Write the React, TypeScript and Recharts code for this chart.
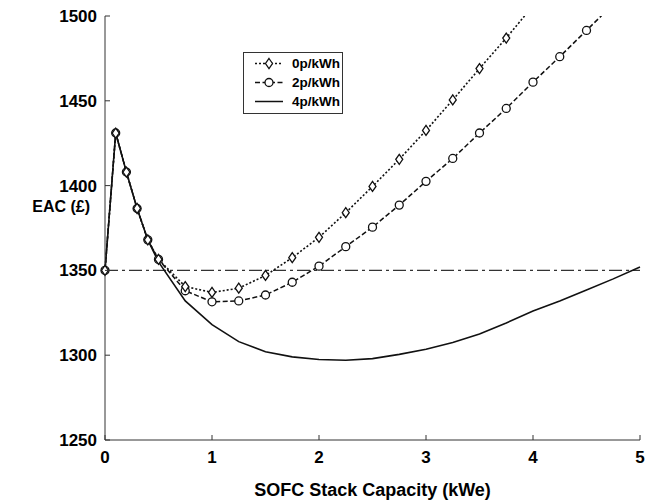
import { LineChart, Line, XAxis, YAxis, ReferenceLine, Label } from 'recharts';

// SOFC stack capacity (kWe) and equivalent annual cost (£) per electricity export price
const capacities = [0, 0.1, 0.2, 0.3, 0.4, 0.5, 0.75, 1, 1.25, 1.5, 1.75, 2, 2.25, 2.5, 2.75, 3, 3.25, 3.5, 3.75, 4, 4.25, 4.5, 4.75, 5];
const eac0p = [1350, 1431, 1408, 1386.5, 1368, 1356.5, 1340.5, 1337, 1339.5, 1347, 1357.5, 1369.5, 1384, 1399.5, 1415.5, 1432.5, 1450.5, 1469, 1487, 1506, null, null, null, null];
const eac2p = [1350, 1431, 1408, 1386.5, 1368, 1356.5, 1338, 1331.5, 1332, 1335.5, 1343, 1352.5, 1364, 1375.5, 1388.5, 1402.5, 1416, 1431, 1445.5, 1461, 1476, 1491.5, 1507, null];
const eac4p = [1350, 1431, 1408, 1386.5, 1368, 1355, 1332, 1318, 1308, 1302, 1299, 1297.5, 1297, 1298, 1300.5, 1303.5, 1307.5, 1312.5, 1319, 1326, 1332, 1338.5, 1345, 1352];
const baseline = 1350;

const xTicks = [0, 1, 2, 3, 4, 5];
const yTicks = [1250, 1300, 1350, 1400, 1450, 1500];

const rows = capacities.map((cap, i) => ({ cap, eac0p: eac0p[i], eac2p: eac2p[i], eac4p: eac4p[i] }));

const FONT = '"Liberation Sans", Arial, Helvetica, sans-serif';
const INK = '#111';
const AXIS = '#333';

const legendItems = [
  { key: 'eac0p', name: '0p/kWh', dash: '2 2', marker: 'diamond' },
  { key: 'eac2p', name: '2p/kWh', dash: '5 2.5', marker: 'circle' },
  { key: 'eac4p', name: '4p/kWh', dash: undefined, marker: 'none' },
];

const DiamondDot = (props: any) => {
  const { cx, cy } = props;
  if (cx == null || cy == null) return null;
  return (
    <path
      d={`M${cx},${cy - 5}L${cx + 3.5},${cy}L${cx},${cy + 5}L${cx - 3.5},${cy}Z`}
      fill="#fff"
      stroke={INK}
      strokeWidth={1.3}
    />
  );
};

const LegendBox = () => (
  <div
    style={{
      position: 'absolute',
      left: 243,
      top: 52,
      width: 98,
      border: '1px solid #333',
      background: '#fff',
      padding: '1px 0 2px 0',
    }}
  >
    {legendItems.map((it) => (
      <div key={it.key} style={{ display: 'flex', alignItems: 'center', height: 19 }}>
        <svg width={48} height={19} style={{ display: 'block' }}>
          <line x1={11} x2={39} y1={9.5} y2={9.5} stroke={INK} strokeWidth={1.5} strokeDasharray={it.dash} />
          {it.marker === 'diamond' && <DiamondDot cx={25} cy={9.5} />}
          {it.marker === 'circle' && <circle cx={25} cy={9.5} r={4} fill="#fff" stroke={INK} strokeWidth={1.3} />}
        </svg>
        <span style={{ fontFamily: FONT, fontWeight: 'bold', fontSize: 13.5, color: '#000' }}>{it.name}</span>
      </div>
    ))}
  </div>
);

const renderYLabel = (props: any) => {
  const vb = props.viewBox || {};
  return (
    <text
      x={vb.x + vb.width - 15}
      y={vb.y + 196}
      textAnchor="end"
      fontFamily={FONT}
      fontWeight="bold"
      fontSize={16}
      fill="#000"
    >
      EAC (£)
    </text>
  );
};

// MATLAB-style inward ticks drawn together with the labels
const BottomTick = (p: any) => (
  <g>
    <line x1={p.x} x2={p.x} y1={p.y} y2={p.y - 5} stroke={AXIS} />
    <text x={p.x} y={p.y + 23} textAnchor="middle" fontFamily={FONT} fontWeight="bold" fontSize={17} fill="#000">
      {p.payload.value}
    </text>
  </g>
);
const TopTick = (p: any) => <line x1={p.x} x2={p.x} y1={p.y} y2={p.y + 5} stroke={AXIS} />;
const LeftTick = (p: any) => (
  <g>
    <line x1={p.x} x2={p.x + 5} y1={p.y} y2={p.y} stroke={AXIS} />
    <text x={p.x - 8} y={p.y + 6} textAnchor="end" fontFamily={FONT} fontWeight="bold" fontSize={17} fill="#000">
      {p.payload.value}
    </text>
  </g>
);
const RightTick = (p: any) => <line x1={p.x} x2={p.x - 5} y1={p.y} y2={p.y} stroke={AXIS} />;

export default function App() {
  return (
    <div style={{ position: 'absolute', left: 0, top: 0, width: 646, height: 502, background: '#fff', fontFamily: FONT }}>
      <LineChart width={646} height={502} data={rows} margin={{ top: 16, right: 6, left: 0, bottom: 0 }}>
        <XAxis
          dataKey="cap"
          type="number"
          domain={[0, 5]}
          ticks={xTicks}
          tickSize={0}
          tickMargin={0}
          tickLine={false}
          stroke={AXIS}
          tick={BottomTick}
          height={62}
        >
          <Label
            value="SOFC Stack Capacity (kWe)"
            position="insideBottom"
            offset={6}
            style={{ fill: '#000', fontFamily: FONT, fontWeight: 'bold', fontSize: 18 }}
          />
        </XAxis>
        <XAxis
          xAxisId="top"
          orientation="top"
          type="number"
          domain={[0, 5]}
          ticks={xTicks}
          tickSize={0}
          tickMargin={0}
          tickLine={false}
          tick={TopTick}
          stroke={AXIS}
          height={0}
        />
        <YAxis
          type="number"
          domain={[1250, 1500]}
          ticks={yTicks}
          allowDataOverflow
          tickSize={0}
          tickMargin={0}
          tickLine={false}
          stroke={AXIS}
          tick={LeftTick}
          width={105}
          label={{ content: renderYLabel }}
        />
        <YAxis
          yAxisId="right"
          orientation="right"
          type="number"
          domain={[1250, 1500]}
          ticks={yTicks}
          tickSize={0}
          tickMargin={0}
          tickLine={false}
          tick={RightTick}
          stroke={AXIS}
          width={0}
        />
        <ReferenceLine y={baseline} stroke={AXIS} strokeWidth={1.2} strokeDasharray="13 4 3 4" />
        <Line
          dataKey="eac4p"
          stroke={INK}
          strokeWidth={1.6}
          dot={false}
          isAnimationActive={false}
        />
        <Line
          dataKey="eac2p"
          stroke={INK}
          strokeWidth={1.5}
          strokeDasharray="5 2.5"
          dot={{ r: 4, fill: '#fff', stroke: INK, strokeWidth: 1.3, strokeDasharray: '' }}
          isAnimationActive={false}
        />
        <Line
          dataKey="eac0p"
          stroke={INK}
          strokeWidth={1.6}
          strokeDasharray="2 2"
          dot={<DiamondDot />}
          isAnimationActive={false}
        />
      </LineChart>
      <LegendBox />
    </div>
  );
}
